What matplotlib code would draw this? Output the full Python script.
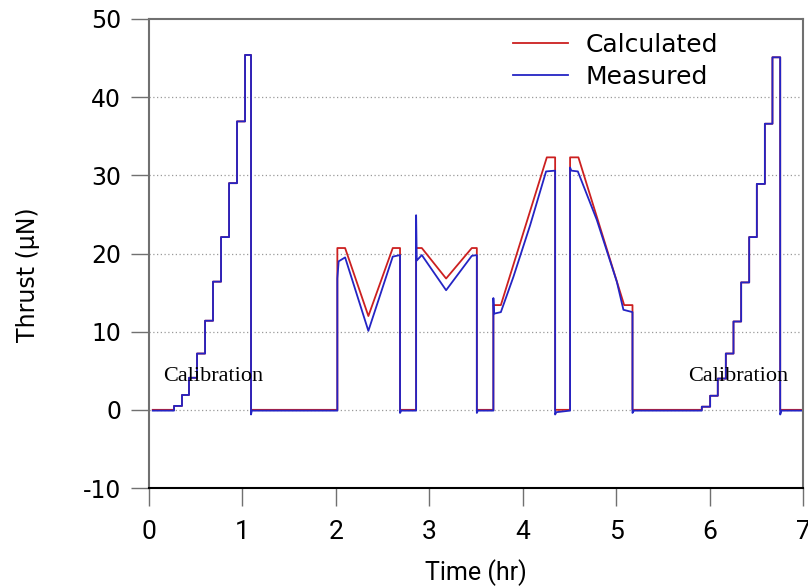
import matplotlib
matplotlib.use("Agg")
import matplotlib.pyplot as plt

plt.rcParams["axes.unicode_minus"] = False

# calibration staircases: step start times (hr) and thrust levels (uN)
cal_left_t = [0.268, 0.353, 0.428, 0.514, 0.600, 0.685, 0.771, 0.857, 0.942, 1.028]
cal_left_v = [0.5, 1.9, 4.1, 7.2, 11.4, 16.4, 22.1, 29.0, 36.9, 45.4]
cal_left_end = 1.092
cal_right_t = [5.917, 6.006, 6.088, 6.174, 6.256, 6.338, 6.424, 6.506, 6.592, 6.673]
cal_right_v = [0.4, 1.8, 4.0, 7.2, 11.3, 16.3, 22.1, 28.9, 36.6, 45.1]
cal_right_end = 6.756

# firing segments between the calibrations
calc_t = [1.092, 2.016, 2.016, 2.099, 2.348, 2.609, 2.687, 2.687,
          2.859, 2.859, 2.920, 3.180, 3.455, 3.509, 3.509,
          3.686, 3.686, 3.766, 4.258, 4.347, 4.347,
          4.507, 4.507, 4.596, 5.086, 5.175, 5.175, 5.917]
calc_v = [0.0, 0.0, 20.7, 20.7, 12.0, 20.7, 20.7, 0.0,
          0.0, 20.7, 20.7, 16.8, 20.7, 20.7, 0.0,
          0.0, 13.4, 13.4, 32.3, 32.3, 0.0,
          0.0, 32.3, 32.3, 13.4, 13.4, 0.0, 0.0]

meas_t = [1.092, 1.100, 2.016, 2.016, 2.030, 2.099, 2.348, 2.609, 2.687, 2.687, 2.700,
          2.848, 2.859, 2.859, 2.866, 2.920, 3.180, 3.455, 3.509, 3.509, 3.520,
          3.680, 3.686, 3.686, 3.692, 3.766, 3.900, 4.079, 4.250, 4.347, 4.347, 4.360,
          4.507, 4.507, 4.520, 4.590, 4.793, 5.007, 5.078, 5.175, 5.175, 5.190, 5.917]
meas_v = [-0.6, -0.1, -0.1, 16.8, 19.0, 19.5, 10.1, 19.6, 19.8, -0.4, -0.1,
          -0.1, -0.1, 24.9, 19.1, 19.8, 15.3, 19.7, 19.8, -0.4, -0.1,
          -0.1, -0.1, 14.3, 12.3, 12.5, 17.0, 23.6, 30.5, 30.6, -0.6, -0.3,
          -0.1, 31.0, 30.6, 30.5, 24.3, 16.4, 12.8, 12.5, -0.4, -0.1, -0.1]


def staircase(starts, levels, end, t0, low):
    """Turn step start times and levels into a polyline."""
    ts, vs = [t0, starts[0]], [low, low]
    for i, (t, v) in enumerate(zip(starts, levels)):
        t_next = starts[i + 1] if i + 1 < len(starts) else end
        ts += [t, t_next]
        vs += [v, v]
    ts += [end]
    vs += [low]
    return ts, vs


lt_c, lv_c = staircase(cal_left_t, cal_left_v, cal_left_end, 0.04, 0.0)
rt_c, rv_c = staircase(cal_right_t, cal_right_v, cal_right_end, 5.917, 0.0)
full_calc_t = lt_c + calc_t + rt_c[2:] + [6.98]
full_calc_v = lv_c + calc_v + rv_c[2:] + [0.0]

lt_m, lv_m = staircase(cal_left_t, cal_left_v, cal_left_end, 0.04, -0.1)
rt_m, rv_m = staircase(cal_right_t, cal_right_v, cal_right_end, 5.917, -0.1)
lv_m[-1] = -0.6
rv_m[-1] = -0.6
full_meas_t = lt_m + meas_t + rt_m[2:] + [6.77, 6.98]
full_meas_v = lv_m + meas_v + rv_m[2:] + [-0.1, -0.1]

red = "#cc2020"
blue = "#2424c4"
narrow = ["Liberation Sans Narrow", "Roboto"]

fig = plt.figure(figsize=(8.08, 5.86), dpi=100)
ax = fig.add_axes([149 / 808, 1 - 488 / 586, 654 / 808, 469 / 586])

ax.plot(full_calc_t, full_calc_v, color=red, lw=1.3, label="Calculated")
ax.plot(full_meas_t, full_meas_v, color=blue, lw=1.3, label="Measured")

ax.set_xlim(0, 7)
ax.set_ylim(-10, 50)
ax.set_xticks(range(0, 8))
ax.set_yticks(range(-10, 51, 10))
for y in range(0, 50, 10):
    ax.axhline(y, color="#9a9a9a", lw=0.9, ls=(0, (1, 2)), zorder=0)

for side in ["left", "top", "right"]:
    ax.spines[side].set_color("#707070")
    ax.spines[side].set_linewidth(1.5)
ax.spines["bottom"].set_color("black")
ax.spines["bottom"].set_linewidth(1.5)
ax.tick_params(direction="out", length=13, width=1.0, color="#707070")
ax.tick_params(axis="y", pad=7, labelsize=17)
ax.tick_params(axis="x", pad=10, labelsize=19)
for lbl in ax.get_yticklabels():
    lbl.set_family("DejaVu Sans")
for lbl in ax.get_xticklabels():
    lbl.set_family(narrow)

ax.set_xlabel("Time (hr)", fontsize=18, family=narrow, labelpad=11)
ax.set_ylabel("Thrust (\u03bcN)", fontsize=17, family="DejaVu Sans")
ax.yaxis.set_label_coords(-0.167, 0.454)

ax.text(0.15, 4.3, "Calibration", family="Liberation Serif", fontsize=16, va="center")
ax.text(5.77, 4.3, "Calibration", family="Liberation Serif", fontsize=16, va="center")

ax.legend(loc="upper left", bbox_to_anchor=(0.522, 1.018), frameon=False,
          handlelength=2.2, handletextpad=0.7, labelspacing=0.3,
          prop={"family": "DejaVu Sans", "size": 18})

fig.savefig("out.png", dpi=100)
